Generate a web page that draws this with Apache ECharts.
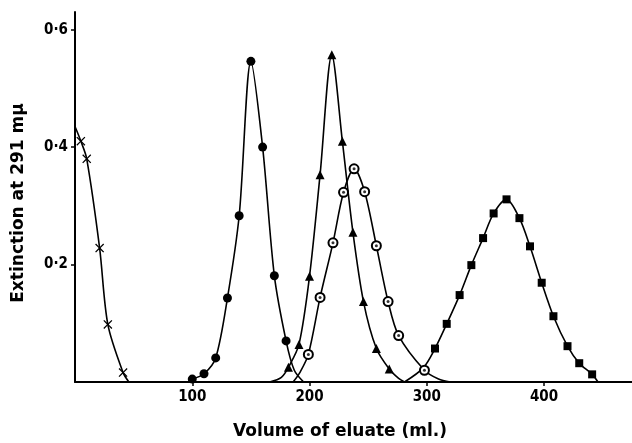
<!DOCTYPE html>
<html>
<head>
<meta charset="utf-8">
<script src="https://cdn.jsdelivr.net/npm/echarts@6/dist/echarts.min.js"></script>
<style>
html,body{margin:0;padding:0;background:#fff;}
#chart{width:632px;height:443px;}
</style>
</head>
<body>
<div id="chart"></div>
<script>
// [volume of eluate (ml.), extinction at 291 mu]
const crossPts = [[5,0.41],[10,0.38],[21,0.228],[28,0.098],[41,0.016]];
const crossTail = [[0,0.435],[46,0]];
const dotPts = [[100,0.005],[110,0.014],[120,0.041],[130,0.143],[140,0.283],[150,0.546],[160,0.40],[170,0.181],[180,0.07]];
const dotTail = [[187,0.02],[195,0]];
const triPts = [[182,0.025],[191,0.064],[200,0.18],[209,0.353],[219,0.557],[228,0.41],[237,0.255],[246,0.137],[257,0.057],[268,0.022]];
const triTail = [[166,0],[176,0.008],[276,0.006],[281,0]];
const ringPts = [[199,0.047],[209,0.144],[220,0.237],[229,0.323],[238,0.363],[247,0.324],[257,0.232],[267,0.137],[276,0.079],[298,0.02]];
const ringTail = [[186,0],[192,0.017],[310,0.005],[320,0]];
const sqPts = [[307,0.057],[317,0.099],[328,0.148],[338,0.199],[348,0.245],[357,0.287],[368,0.311],[379,0.279],[388,0.231],[398,0.169],[408,0.112],[420,0.061],[430,0.032],[441,0.013]];
const sqTail = [[281,0],[297,0.024],[446,0]];

const xTicks = [100,200,300,400];
const yTicks = [0.2,0.4,0.6];
const yTickLabels = ['0·2','0·4','0·6'];

const FONT = "'DejaVu Sans Condensed', 'DejaVu Sans', sans-serif";
const NAME_FONT = "'DejaVu Sans', sans-serif";
const CROSS = 'path://M0,1 L1,0 L5,4 L9,0 L10,1 L6,5 L10,9 L9,10 L5,6 L1,10 L0,9 L4,5 Z';

// markers on measured points, plain curve on the hand-drawn tails
function curve(pts, tail){
    return pts.map(p => ({value:p}))
        .concat(tail.map(p => ({value:p, symbol:'none'})))
        .sort((a,b) => a.value[0]-b.value[0]);
}
function line(pts, tail, symbol, size, extra){
    return Object.assign({
        type:'line',
        data:curve(pts, tail),
        smooth:0.3,
        symbol:symbol,
        symbolSize:size,
        showAllSymbol:true,
        lineStyle:{color:'#000', width:1.6},
        itemStyle:{color:'#000'},
        animation:false
    }, extra || {});
}

const chart = echarts.init(document.getElementById('chart'), null, {renderer:'canvas'});
chart.setOption({
    backgroundColor:'#fff',
    grid:{left:75, right:0, top:12, bottom:61, outerBoundsMode:'none'},
    xAxis:{
        type:'value', min:0, max:475,
        name:'Volume of eluate (ml.)',
        nameLocation:'middle', nameGap:41,
        nameTextStyle:{fontFamily:NAME_FONT, fontWeight:'bold', fontSize:17, color:'#000', padding:[0,27,0,0]},
        axisLine:{lineStyle:{color:'#000', width:2}},
        axisTick:{customValues:xTicks, length:4, lineStyle:{color:'#000', width:1.5}},
        axisLabel:{customValues:xTicks, fontFamily:FONT, fontWeight:'bold', fontSize:15, color:'#000', margin:8},
        splitLine:{show:false}
    },
    yAxis:{
        type:'value', min:0, max:0.63,
        name:'Extinction at 291 mμ',
        nameLocation:'middle', nameGap:48,
        nameTextStyle:{fontFamily:NAME_FONT, fontWeight:'bold', fontSize:17, color:'#000', padding:[0,12,0,0]},
        axisLine:{show:true, lineStyle:{color:'#000', width:2}},
        axisTick:{show:true, customValues:yTicks, length:4, lineStyle:{color:'#000', width:1.5}},
        axisLabel:{
            customValues:yTicks, fontFamily:FONT, fontWeight:'bold', fontSize:15, color:'#000', margin:7,
            formatter:v => {
                const i = yTicks.findIndex(t => Math.abs(t-v) < 1e-6);
                return i < 0 ? '' : yTickLabels[i];
            }
        },
        splitLine:{show:false}
    },
    series:[
        line(crossPts, crossTail, CROSS, 9),
        line(dotPts, dotTail, 'circle', 9),
        line(triPts, triTail, 'triangle', 9),
        line(ringPts, ringTail, 'emptyCircle', 9, {itemStyle:{color:'#000', borderWidth:2}}),
        line(sqPts, sqTail, 'rect', 8),
        {
            type:'scatter', data:ringPts, symbol:'circle', symbolSize:3,
            itemStyle:{color:'#000'}, z:5, animation:false
        }
    ]
});
</script>
</body>
</html>
